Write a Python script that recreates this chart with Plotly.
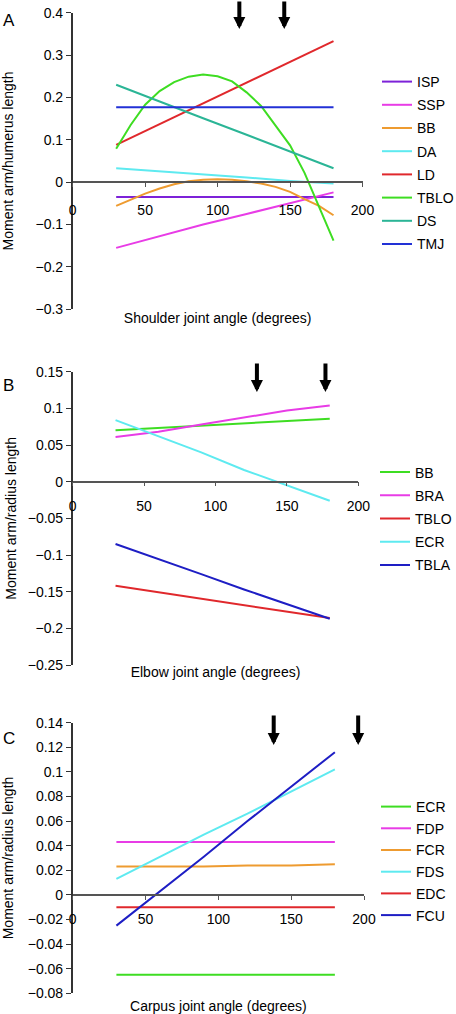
import plotly.graph_objects as go

W, H = 456, 1014

# ---------------- data ----------------
angles = [30, 60, 90, 120, 150, 180]
angles_fine = [30, 40, 50, 60, 70, 80, 90, 100, 110, 120, 130, 140, 150, 160, 170, 180]
x_ticks = [0, 50, 100, 150, 200]

# Panel A: shoulder (moment arm / humerus length)
a_isp = [-0.035, -0.035, -0.035, -0.035, -0.035, -0.035]
a_ssp = [-0.155, -0.128, -0.100, -0.075, -0.049, -0.024]
a_bb = [-0.056, -0.041, -0.027, -0.015, -0.005, 0.002, 0.006, 0.007,
        0.006, 0.002, -0.003, -0.011, -0.023, -0.040, -0.056, -0.078]
a_da = [0.033, 0.026, 0.018, 0.011, 0.003, -0.003]
a_ld = [0.088, 0.137, 0.186, 0.235, 0.284, 0.333]
a_tblo = [0.079, 0.135, 0.183, 0.215, 0.236, 0.249, 0.254, 0.250,
          0.238, 0.212, 0.180, 0.133, 0.087, 0.022, -0.060, -0.138]
a_ds = [0.230, 0.190, 0.151, 0.112, 0.072, 0.033]
a_tmj = [0.177, 0.177, 0.177, 0.177, 0.177, 0.177]
a_arrows = [115, 146]

# Panel B: elbow (moment arm / radius length)
b_bb = [0.070, 0.073, 0.077, 0.079, 0.082, 0.086]
b_bra = [0.061, 0.068, 0.078, 0.087, 0.097, 0.104]
b_tblo = [-0.142, -0.151, -0.159, -0.168, -0.177, -0.186]
b_ecr = [0.084, 0.062, 0.040, 0.016, -0.005, -0.026]
b_tbla = [-0.085, -0.105, -0.126, -0.147, -0.167, -0.187]
b_arrows = [129, 177]

# Panel C: carpus (moment arm / radius length)
c_ecr = [-0.065, -0.065, -0.065, -0.065, -0.065, -0.065]
c_fdp = [0.043, 0.043, 0.043, 0.043, 0.043, 0.043]
c_fcr = [0.023, 0.023, 0.023, 0.024, 0.024, 0.025]
c_fds = [0.013, 0.031, 0.049, 0.066, 0.084, 0.102]
c_edc = [-0.010, -0.010, -0.010, -0.010, -0.010, -0.010]
c_fcu = [-0.025, 0.003, 0.031, 0.060, 0.088, 0.116]
c_arrows = [138, 196]

# ---------------- styling ----------------
PURPLE = "#7D22D8"
MAGENTA = "#E83CE6"
ORANGE = "#EE9B30"
CYAN = "#5EEAF0"
RED = "#E0282C"
GREEN = "#3EDD22"
TEAL = "#2BB596"
BLUE = "#2231D6"
DBLUE = "#1E1EC4"

FONT = "Liberation Sans, Arial, Helvetica, sans-serif"

fig = go.Figure()


def add(x, y, name, color, xa, ya, legend):
    fig.add_trace(go.Scatter(
        x=x, y=y, name=name, mode="lines",
        line=dict(color=color, width=2),
        xaxis=xa, yaxis=ya, legend=legend, legendgroup=legend + name,
    ))


# Panel A traces
add(angles, a_isp, "ISP", PURPLE, "x", "y", "legend")
add(angles, a_ssp, "SSP", MAGENTA, "x", "y", "legend")
add(angles_fine, a_bb, "BB", ORANGE, "x", "y", "legend")
add(angles, a_da, "DA", CYAN, "x", "y", "legend")
add(angles, a_ld, "LD", RED, "x", "y", "legend")
add(angles_fine, a_tblo, "TBLO", GREEN, "x", "y", "legend")
add(angles, a_ds, "DS", TEAL, "x", "y", "legend")
add(angles, a_tmj, "TMJ", BLUE, "x", "y", "legend")

# Panel B traces
add(angles, b_bb, "BB", GREEN, "x2", "y2", "legend2")
add(angles, b_bra, "BRA", MAGENTA, "x2", "y2", "legend2")
add(angles, b_tblo, "TBLO", RED, "x2", "y2", "legend2")
add(angles, b_ecr, "ECR", CYAN, "x2", "y2", "legend2")
add(angles, b_tbla, "TBLA", DBLUE, "x2", "y2", "legend2")

# Panel C traces
add(angles, c_ecr, "ECR", GREEN, "x3", "y3", "legend3")
add(angles, c_fdp, "FDP", MAGENTA, "x3", "y3", "legend3")
add(angles, c_fcr, "FCR", ORANGE, "x3", "y3", "legend3")
add(angles, c_fds, "FDS", CYAN, "x3", "y3", "legend3")
add(angles, c_edc, "EDC", RED, "x3", "y3", "legend3")
add(angles, c_fcu, "FCU", DBLUE, "x3", "y3", "legend3")


def px_x(p):
    return p / W


def px_y(p):
    return 1 - p / H


panels = [
    dict(xl=72.7, xr=362.5, yt=12.7, yb=309.3, yr=[-0.3, 0.4], dt=0.1,
         ytitle="Moment arm/humerus length", xtitle="Shoulder joint angle (degrees)",
         ystand=26, xstand=95, tls=11),
    dict(xl=72.7, xr=358.3, yt=371.7, yb=665.0, yr=[-0.25, 0.15], dt=0.05,
         ytitle="Moment arm/radius length", xtitle="Elbow joint angle (degrees)",
         ystand=8, xstand=153, tls=8),
    dict(xl=72.7, xr=364.0, yt=722.7, yb=993.3, yr=[-0.08, 0.14], dt=0.02,
         ytitle="Moment arm/radius length", xtitle="Carpus joint angle (degrees)",
         ystand=11, xstand=75, tls=8),
]

layout = {}
for i, p in enumerate(panels):
    sfx = "" if i == 0 else str(i + 1)
    ydom = [px_y(p["yb"]), px_y(p["yt"])]
    y0 = ydom[0] + (0 - p["yr"][0]) / (p["yr"][1] - p["yr"][0]) * (ydom[1] - ydom[0])
    layout["xaxis" + sfx] = dict(
        domain=[px_x(p["xl"]), px_x(p["xr"])], range=[0, 200], autorange=False,
        tickvals=x_ticks, ticks="outside", ticklen=4, tickcolor="#555",
        showline=True, linecolor="#555", linewidth=1.5,
        showgrid=False, zeroline=False, anchor="free", position=y0,
        automargin=False,
        tickfont=dict(size=14, color="black", family=FONT),
        ticklabelstandoff=p["tls"],
        title=dict(text=p["xtitle"], font=dict(size=14, color="black", family=FONT),
                   standoff=p["xstand"]),
    )
    layout["yaxis" + sfx] = dict(
        domain=ydom, range=p["yr"], autorange=False, dtick=p["dt"], tick0=0,
        ticks="outside", ticklen=5, tickcolor="#333",
        showline=True, linecolor="#333", linewidth=1.5,
        showgrid=False, zeroline=False, anchor="x" + sfx, automargin=False,
        tickfont=dict(size=14, color="black", family=FONT),
        title=dict(text=p["ytitle"], font=dict(size=14, color="black", family=FONT),
                   standoff=p["ystand"]),
    )

legend_common = dict(font=dict(size=14, color="black", family=FONT),
                     bgcolor="rgba(0,0,0,0)", borderwidth=0,
                     traceorder="grouped", xanchor="left", yanchor="top")
layout["legend"] = dict(x=px_x(377), y=px_y(66), tracegroupgap=2, **legend_common)
layout["legend2"] = dict(x=px_x(375), y=px_y(456.5), tracegroupgap=2, **legend_common)
layout["legend3"] = dict(x=px_x(376), y=px_y(791), tracegroupgap=0.5, **legend_common)

annotations = []
for letter, ypx in [("A", 21), ("B", 385), ("C", 738)]:
    annotations.append(dict(text=letter, x=px_x(1), y=px_y(ypx), xref="paper", yref="paper",
                            xanchor="left", yanchor="middle", showarrow=False,
                            font=dict(size=17, color="black", family=FONT)))

for xa, xs, tip, length in [("x", a_arrows, 29, 29), ("x2", b_arrows, 392, 30),
                            ("x3", c_arrows, 745, 31)]:
    for xv in xs:
        annotations.append(dict(text="", x=xv, xref=xa, y=px_y(tip), yref="paper",
                                showarrow=True, ax=0, ay=-length, arrowhead=2,
                                arrowwidth=4, arrowsize=0.6, arrowcolor="black"))

fig.update_layout(
    width=W, height=H, margin=dict(l=0, r=0, t=0, b=0, autoexpand=False),
    paper_bgcolor="white", plot_bgcolor="white",
    font=dict(family=FONT, size=14, color="black"),
    annotations=annotations, showlegend=True,
    **layout,
)

fig.write_html(
    "out.html",
    config={"displayModeBar": False},
    post_script="document.body.style.margin='0';document.body.style.overflow='hidden';",
)
